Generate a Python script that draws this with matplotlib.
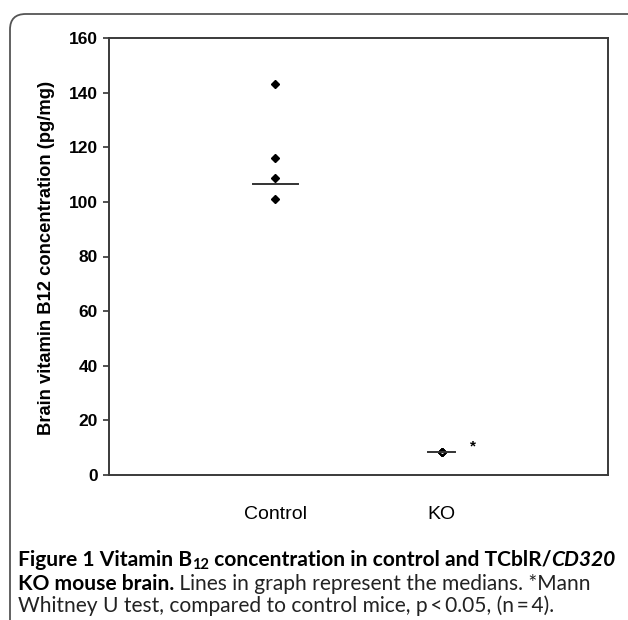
import matplotlib
matplotlib.use('Agg')
import matplotlib.pyplot as plt
from matplotlib.patches import FancyBboxPatch

# values
groups = ['Control', 'KO']
control_vals = [143.0, 116.0, 108.8, 101.2]
ko_vals = [8.6, 8.5, 8.4, 8.5]
medians = [106.6, 8.5]
median_halfwidth = [0.135, 0.08]
yticks = [0, 20, 40, 60, 80, 100, 120, 140, 160]

W, H = 628, 620
fig = plt.figure(figsize=(W/100, H/100), dpi=100)

# rounded frame round the whole figure (runs off right and bottom)
frame = FancyBboxPatch((10/W, -0.1), 1.2, 1 - 14/H + 0.1,
                       boxstyle='round,pad=0,rounding_size=0.025',
                       transform=fig.transFigure, fill=False,
                       edgecolor='#555555', linewidth=1.3)
fig.patches.append(frame)

ax = fig.add_axes([109/W, 1 - 475/H, (608-109)/W, (475-38)/H])

tick_font = dict(family=['Liberation Sans Narrow', 'Liberation Sans'], weight='bold', size=12.5)

ax.plot([1]*len(control_vals), control_vals, 'D', color='black', markersize=4.3)
ax.plot([2]*len(ko_vals), ko_vals, 'D', color='black', markersize=4.3)
ax.plot([2], [ko_vals[0]], '.', color='white', markersize=2)

for i, m in enumerate(medians):
    ax.plot([i+1 - median_halfwidth[i], i+1 + median_halfwidth[i]], [m, m],
            color='#333333', linewidth=1.4)

ax.text(2.19, 10.4, '*', ha='center', va='center', fontsize=11, fontweight='bold',
        family='Liberation Sans')

ax.set_xlim(0, 3)
ax.set_ylim(0, 160)
ax.set_yticks(yticks)
ax.set_yticklabels([str(v) for v in yticks], fontdict=tick_font)
ax.set_xticks([1, 2])
ax.set_xticklabels(groups, family='Liberation Sans', size=14)
ax.tick_params(axis='x', length=0, pad=22)
ax.tick_params(axis='y', direction='out', length=4.3, width=1.2, pad=3.6, color='#333333')
for s in ax.spines.values():
    s.set_linewidth(1.4)
    s.set_color('#3a3a3a')

fig.text(47/W, 1 - 258/H, 'Brain vitamin B12 concentration (pg/mg)', rotation=90,
         ha='center', va='center', fontsize=13.2, fontweight='bold', family='Liberation Sans')

# caption, drawn piece by piece so bold / italic / subscript can mix
renderer = fig.canvas.get_renderer()
cap_font = 'Lato'

def runs(x, y, pieces, size):
    made = []
    for txt, kw in pieces:
        kw = dict(kw)
        dy = kw.pop('dy', 0)
        rel = kw.pop('rel', 1.0)
        t = fig.text(x, y + dy*size/H, txt, va='center', ha='left', family=cap_font,
                     size=size*rel, **kw)
        bb = t.get_window_extent(renderer)
        x += bb.width / W
        made.append(t)
    return x, made

line1 = [
    ('Figure 1 Vitamin B', dict(weight='bold')),
    ('12', dict(weight='bold', rel=0.7, dy=-0.3)),
    (' concentration in control and TCblR/', dict(weight='bold')),
    ('CD320', dict(weight='bold', style='italic')),
]
line2 = [
    ('KO mouse brain.', dict(weight='bold')),
    (' Lines in graph represent the medians. *Mann', dict(color='#222222')),
]
line3 = [
    ('Whitney U test, compared to control mice, p\u2009<\u20090.05, (n\u2009=\u20094).',
     dict(color='#222222')),
]

x0 = 18/W
# size the caption so its first line fills the frame width
end, tmp = runs(x0, 0.5, line1, 12)
for t in tmp:
    t.remove()
cs = 12 * (610/W - x0) / (end - x0)

runs(x0, 1 - 560/H, line1, cs)
runs(x0, 1 - 584/H, line2, cs)
runs(x0, 1 - 606/H, line3, cs)

fig.savefig('out.png', dpi=100)
